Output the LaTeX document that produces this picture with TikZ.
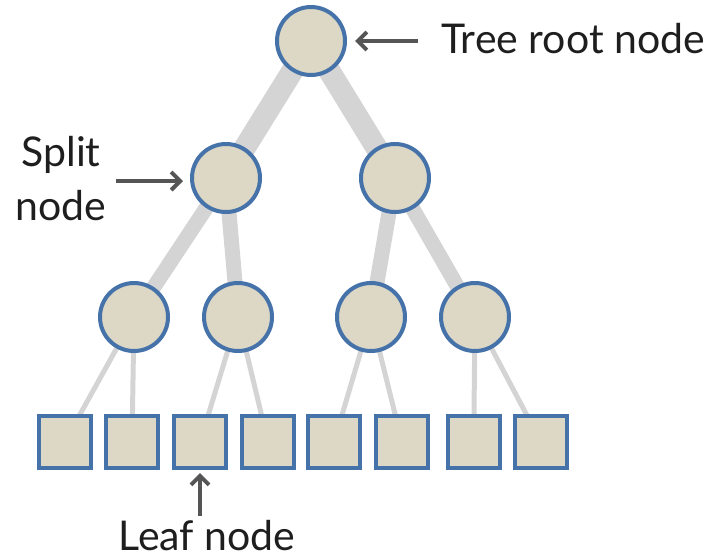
\documentclass[tikz,border=0pt]{standalone}
\usepackage{fontspec}
\setmainfont{Lato}
\usetikzlibrary{arrows.meta,backgrounds}
\definecolor{nodeblue}{HTML}{4672AA}
\definecolor{nodefill}{HTML}{DCD8C5}
\definecolor{edgegray}{HTML}{D4D4D4}
\definecolor{arrgray}{HTML}{555555}
\definecolor{txt}{HTML}{1E1E1E}
\begin{document}
\begin{tikzpicture}[x=1pt,y=-1pt,
  tnode/.style={circle,draw=nodeblue,fill=nodefill,line width=4pt,minimum size=68pt,inner sep=0pt},
  leafbox/.style={rectangle,draw=nodeblue,fill=nodefill,line width=4pt,minimum size=52pt,inner sep=0pt},
  eone/.style={draw=edgegray,line width=22pt},
  etwo/.style={draw=edgegray,line width=15pt},
  ethree/.style={draw=edgegray,line width=5pt},
  lbl/.style={text=txt,font=\fontsize{41pt}{54pt}\selectfont,inner sep=0pt},
  arr/.style={draw=arrgray,line width=4pt,-{Straight Barb[length=9pt,width=18pt]}}]
\useasboundingbox (0,0) rectangle (719,558);
% tree nodes
\node[tnode] (root) at (311,41) {};
\node[tnode] (s1) at (226,178) {};
\node[tnode] (s2) at (395,178) {};
\node[tnode] (c1) at (134,317) {};
\node[tnode] (c2) at (238,317) {};
\node[tnode] (c3) at (371,317) {};
\node[tnode] (c4) at (475,317) {};
\node[leafbox] (l1) at (64.7,442) {};
\node[leafbox] (l2) at (132,442) {};
\node[leafbox] (l3) at (200,442) {};
\node[leafbox] (l4) at (268,442) {};
\node[leafbox] (l5) at (334,442) {};
\node[leafbox] (l6) at (402,442) {};
\node[leafbox] (l7) at (473.7,442) {};
\node[leafbox] (l8) at (541,442) {};
% edges
\begin{scope}[on background layer]
\draw[eone] (root.center) -- (s1.center);
\draw[eone] (root.center) -- (s2.center);
\draw[etwo] (s1.center) -- (c1.center);
\draw[etwo] (s1.center) -- (c2.center);
\draw[etwo] (s2.center) -- (c3.center);
\draw[etwo] (s2.center) -- (c4.center);
\draw[ethree] (c1.center) -- (l1.center);
\draw[ethree] (c1.center) -- (l2.center);
\draw[ethree] (c2.center) -- (l3.center);
\draw[ethree] (c2.center) -- (l4.center);
\draw[ethree] (c3.center) -- (l5.center);
\draw[ethree] (c3.center) -- (l6.center);
\draw[ethree] (c4.center) -- (l7.center);
\draw[ethree] (c4.center) -- (l8.center);
\end{scope}
% labels
\node[lbl,anchor=base west] (rootlbl) at (441,53) {Tree root node};
\node[lbl,anchor=base] (leaflbl) at (207,550) {Leaf node};
\node[lbl,align=center,anchor=north] (splitlbl) at (61,136) {Split\\node};
% label arrows
\draw[arr,shorten <=23pt,shorten >=8pt] (rootlbl.west |- root.east) -- (root.east);
\draw[arr,shorten <=9pt,shorten >=7pt] ([yshift=-3pt]splitlbl.east |- s1.west) -- ([yshift=-3pt]s1.west);
\draw[arr,shorten <=4pt,shorten >=3pt] (l3.south |- leaflbl.north) -- (l3.south);
\end{tikzpicture}
\end{document}
